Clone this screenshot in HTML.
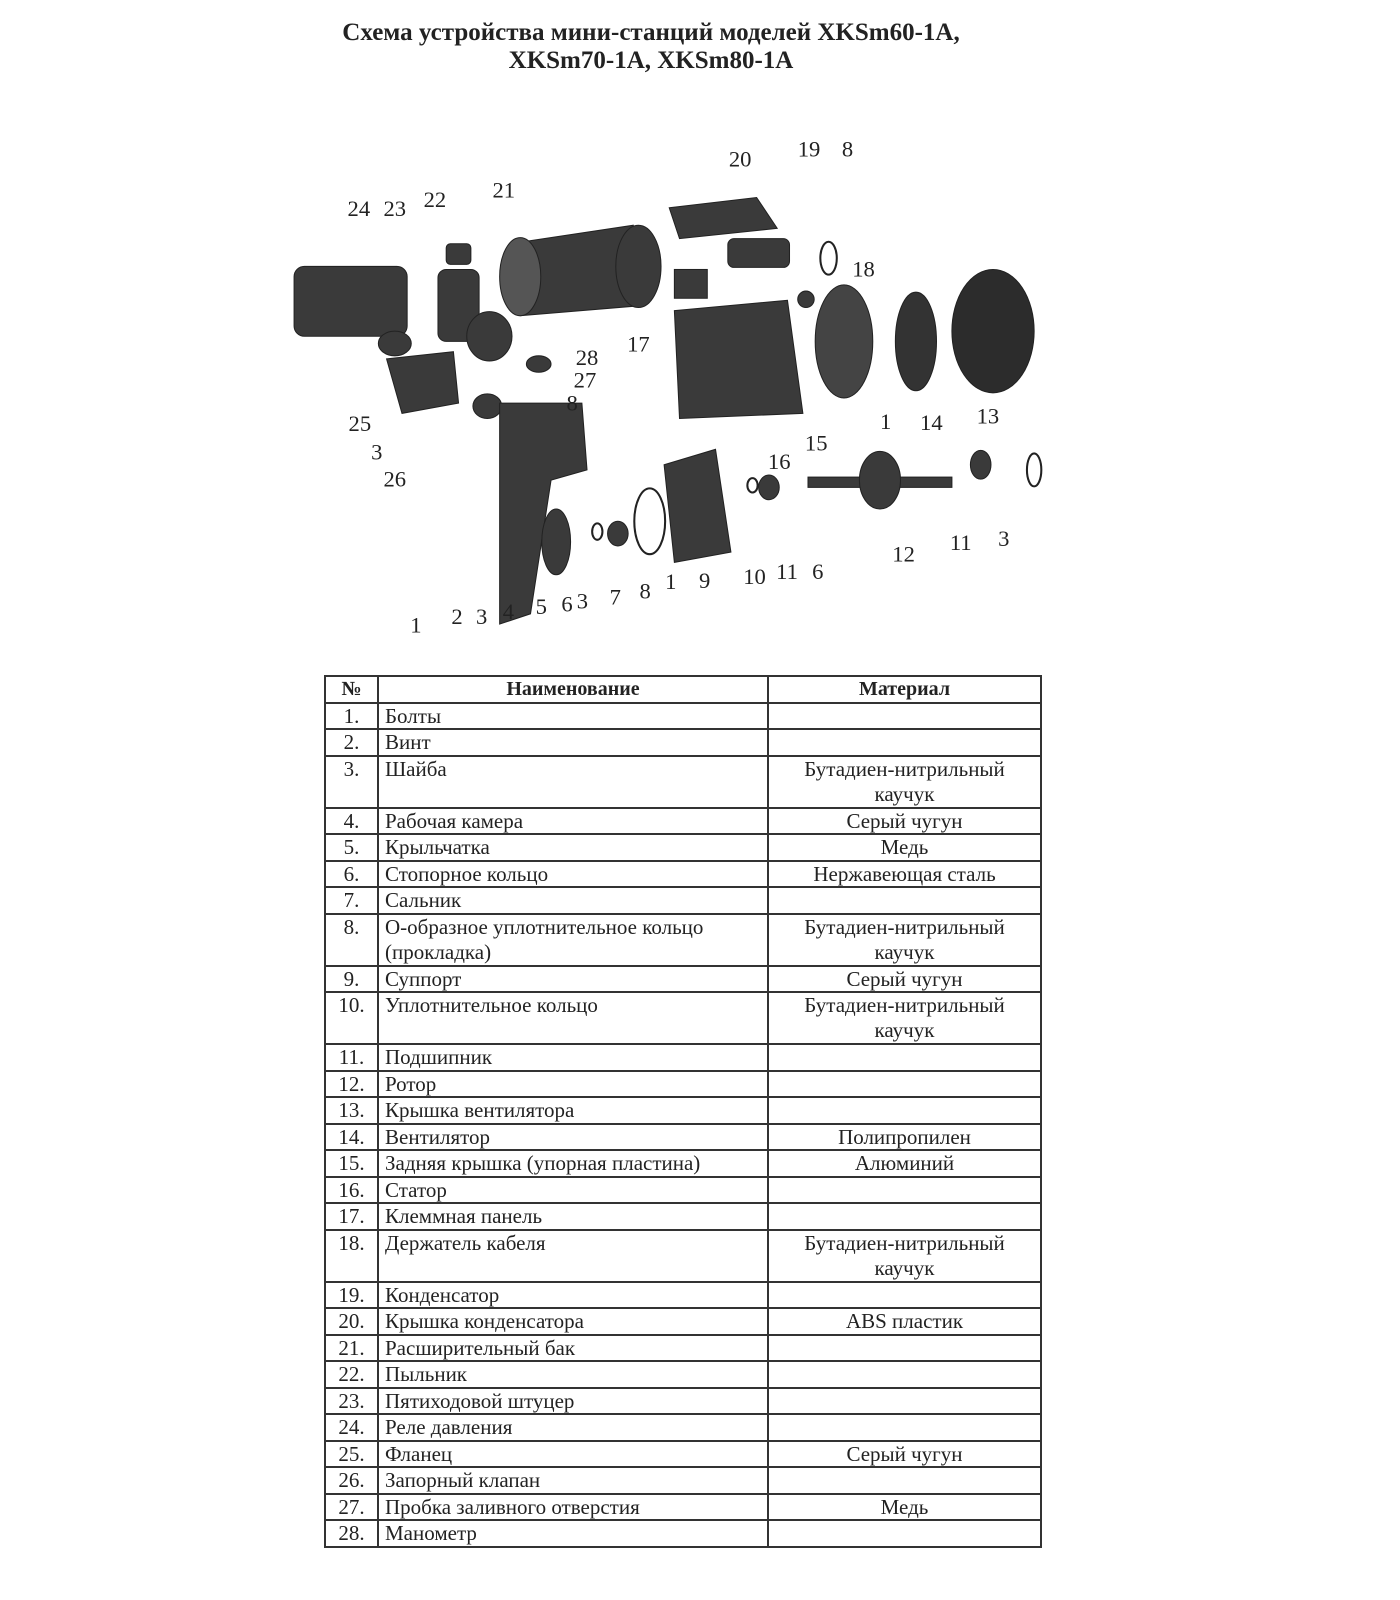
<!DOCTYPE html>
<html><head><meta charset="utf-8"><style>
body{margin:0;background:#fff;width:1400px;height:1600px;position:relative;overflow:hidden;font-family:"Liberation Serif",serif;color:#222}
.t{position:absolute;left:0;width:1302px;text-align:center;font-weight:bold;font-size:25px}
table{position:absolute;left:324px;top:675px;border-collapse:collapse;width:718px;font-size:21px;table-layout:fixed}
td{border:2px solid #333;padding:0 6px;height:24.5px;line-height:24.5px;vertical-align:top;white-space:nowrap}
td:first-child{text-align:center;padding:0}
td:nth-child(3){text-align:center}
tr.d td{height:49.4px;line-height:25px}
th{border:2px solid #333;height:24.5px;line-height:24.5px;font-size:20px;padding:0}
svg text{font-family:"Liberation Serif",serif;font-size:22px;fill:#222}
</style></head><body>
<div class="t" style="top:19px">Схема устройства мини-станций моделей XKSm60-1A,</div>
<div class="t" style="top:47px">XKSm70-1A, XKSm80-1A</div>
<svg width="1439" height="658" viewBox="0 0 1400 640" style="position:absolute;left:-4px;top:-3px">
<g fill="#3a3a3a" stroke="#222">
<rect x="290" y="262" width="110" height="68" rx="10"/>
<rect x="430" y="265" width="40" height="70" rx="8"/>
<rect x="438" y="240" width="24" height="20" rx="4"/>
<ellipse cx="480" cy="330" rx="22" ry="24"/>
<path d="M500 240 L620 222 L630 300 L510 310 Z"/>
<ellipse cx="510" cy="272" rx="20" ry="38" fill="#555"/>
<ellipse cx="625" cy="262" rx="22" ry="40"/>
<path d="M655 205 L740 195 L760 225 L665 235 Z"/>
<rect x="712" y="235" width="60" height="28" rx="6"/>
<rect x="660" y="265" width="32" height="28"/>
<path d="M660 305 L770 295 L785 405 L665 410 Z"/>
<ellipse cx="788" cy="294" rx="8" ry="8"/>
<ellipse cx="825" cy="335" rx="28" ry="55" fill="#444"/>
<ellipse cx="895" cy="335" rx="20" ry="48" fill="#333"/>
<ellipse cx="970" cy="325" rx="40" ry="60" fill="#2c2c2c"/>
<ellipse cx="388" cy="337" rx="16" ry="12"/>
<path d="M380 352 L445 345 L450 395 L395 405 Z"/>
<ellipse cx="478" cy="398" rx="14" ry="12"/>
<ellipse cx="528" cy="357" rx="12" ry="8"/>
<path d="M490 395 L570 395 L575 460 L540 470 L520 600 L490 610 Z"/>
<ellipse cx="545" cy="530" rx="14" ry="32"/>
<path d="M650 455 L700 440 L715 540 L660 550 Z"/>
<ellipse cx="605" cy="522" rx="10" ry="12"/>
<ellipse cx="752" cy="477" rx="10" ry="12"/>
<rect x="790" y="467" width="140" height="10"/>
<ellipse cx="860" cy="470" rx="20" ry="28"/>
<ellipse cx="958" cy="455" rx="10" ry="14"/>
</g>
<g fill="none" stroke="#222" stroke-width="2">
<ellipse cx="810" cy="254" rx="8" ry="16"/>
<ellipse cx="636" cy="510" rx="15" ry="32"/>
<ellipse cx="1010" cy="460" rx="7" ry="16"/>
<ellipse cx="585" cy="520" rx="5" ry="8"/>
<ellipse cx="736" cy="475" rx="5" ry="7"/>
</g>
<g>
<text x="713" y="165">20</text><text x="780" y="155">19</text><text x="823" y="155">8</text>
<text x="483" y="195">21</text><text x="342" y="213">24</text><text x="377" y="213">23</text><text x="416" y="204">22</text>
<text x="833" y="272">18</text><text x="614" y="345">17</text><text x="564" y="358">28</text><text x="562" y="380">27</text>
<text x="555" y="402">8</text><text x="343" y="422">25</text><text x="365" y="450">3</text><text x="377" y="476">26</text>
<text x="787" y="441">15</text><text x="860" y="420">1</text><text x="899" y="421">14</text><text x="954" y="415">13</text>
<text x="751" y="459">16</text><text x="872" y="549">12</text><text x="928" y="538">11</text><text x="975" y="534">3</text>
<text x="727" y="571">10</text><text x="759" y="566">11</text><text x="794" y="566">6</text><text x="684" y="575">9</text>
<text x="651" y="576">1</text><text x="626" y="585">8</text><text x="597" y="591">7</text><text x="565" y="595">3</text>
<text x="550" y="598">6</text><text x="525" y="600">5</text><text x="493" y="605">4</text><text x="467" y="610">3</text>
<text x="443" y="610">2</text><text x="403" y="618">1</text>
</g>
</svg>
<table>
<colgroup><col style="width:53px"><col style="width:390px"><col></colgroup>
<tr><th>№</th><th>Наименование</th><th>Материал</th></tr>
<tr><td>1.</td><td>Болты</td><td></td></tr>
<tr><td>2.</td><td>Винт</td><td></td></tr>
<tr class="d"><td>3.</td><td>Шайба</td><td>Бутадиен-нитрильный<br>каучук</td></tr>
<tr><td>4.</td><td>Рабочая камера</td><td>Серый чугун</td></tr>
<tr><td>5.</td><td>Крыльчатка</td><td>Медь</td></tr>
<tr><td>6.</td><td>Стопорное кольцо</td><td>Нержавеющая сталь</td></tr>
<tr><td>7.</td><td>Сальник</td><td></td></tr>
<tr class="d"><td>8.</td><td>О-образное уплотнительное кольцо<br>(прокладка)</td><td>Бутадиен-нитрильный<br>каучук</td></tr>
<tr><td>9.</td><td>Суппорт</td><td>Серый чугун</td></tr>
<tr class="d"><td>10.</td><td>Уплотнительное кольцо</td><td>Бутадиен-нитрильный<br>каучук</td></tr>
<tr><td>11.</td><td>Подшипник</td><td></td></tr>
<tr><td>12.</td><td>Ротор</td><td></td></tr>
<tr><td>13.</td><td>Крышка вентилятора</td><td></td></tr>
<tr><td>14.</td><td>Вентилятор</td><td>Полипропилен</td></tr>
<tr><td>15.</td><td>Задняя крышка (упорная пластина)</td><td>Алюминий</td></tr>
<tr><td>16.</td><td>Статор</td><td></td></tr>
<tr><td>17.</td><td>Клеммная панель</td><td></td></tr>
<tr class="d"><td>18.</td><td>Держатель кабеля</td><td>Бутадиен-нитрильный<br>каучук</td></tr>
<tr><td>19.</td><td>Конденсатор</td><td></td></tr>
<tr><td>20.</td><td>Крышка конденсатора</td><td>ABS пластик</td></tr>
<tr><td>21.</td><td>Расширительный бак</td><td></td></tr>
<tr><td>22.</td><td>Пыльник</td><td></td></tr>
<tr><td>23.</td><td>Пятиходовой штуцер</td><td></td></tr>
<tr><td>24.</td><td>Реле давления</td><td></td></tr>
<tr><td>25.</td><td>Фланец</td><td>Серый чугун</td></tr>
<tr><td>26.</td><td>Запорный клапан</td><td></td></tr>
<tr><td>27.</td><td>Пробка заливного отверстия</td><td>Медь</td></tr>
<tr><td>28.</td><td>Манометр</td><td></td></tr>
</table>
</body></html>
